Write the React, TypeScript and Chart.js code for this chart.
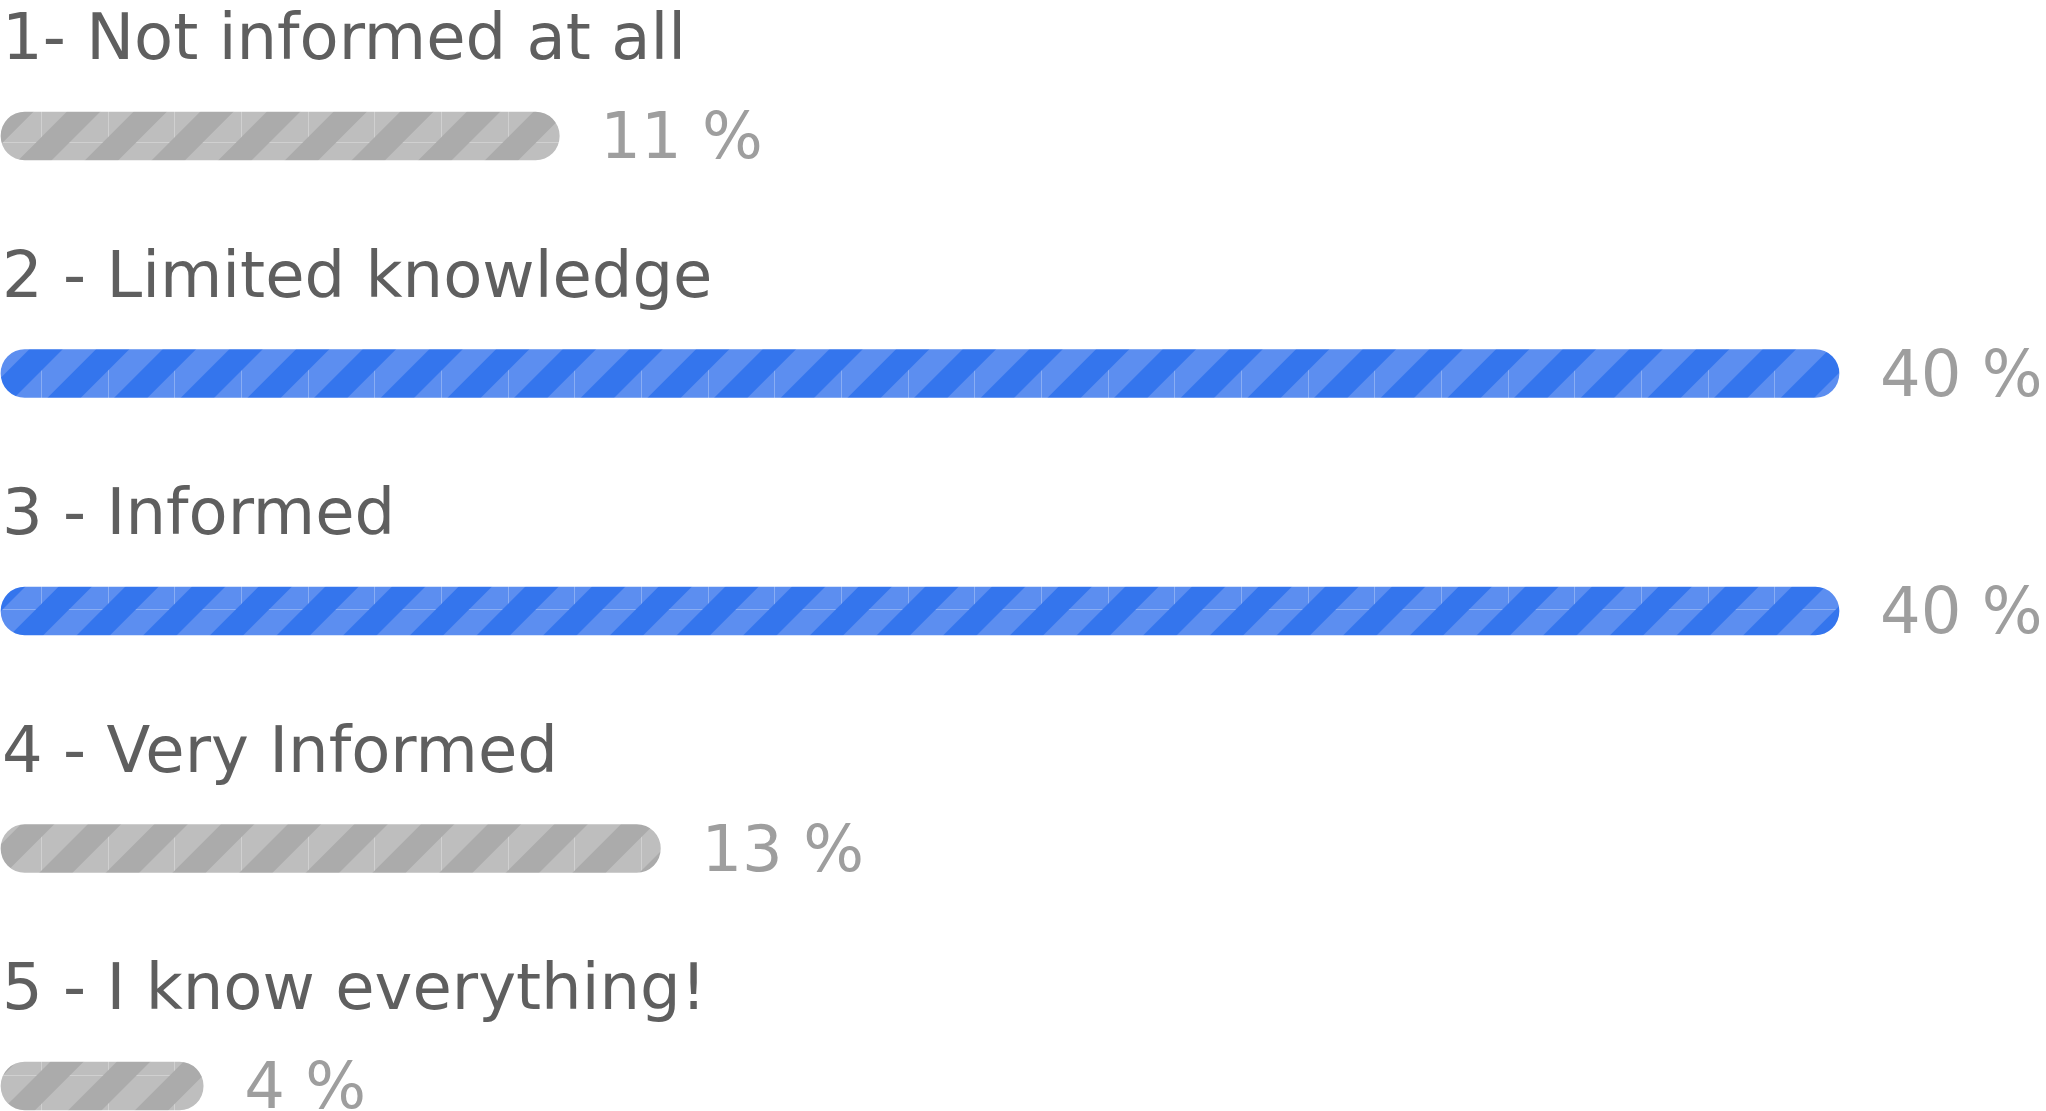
import React, { useEffect, useRef } from "react";
import { Chart, registerables } from "chart.js";

Chart.register(...registerables);

const categories = [
  "1- Not informed at all",
  "2 - Limited knowledge",
  "3 - Informed",
  "4 - Very Informed",
  "5 - I know everything!",
];
const barValues = [12.15, 40, 40, 14.35, 4.4];
const percentLabels = ["11 %", "40 %", "40 %", "13 %", "4 %"];

const BLUE_DARK = "#3475ED";
const BLUE_LIGHT = "#5C8EF0";
const GREY_DARK = "#ABABAB";
const GREY_LIGHT = "#BEBEBE";

function makePattern(ctx: CanvasRenderingContext2D, dark: string, light: string) {
  const S = 200;
  const P = S / 3;
  const tile = document.createElement("canvas");
  tile.width = S;
  tile.height = S;
  const t = tile.getContext("2d")!;
  t.fillStyle = light;
  t.fillRect(0, 0, S, S);
  // faint seams (visible on light stripes)
  t.fillStyle = "rgba(255,255,255,0.28)";
  for (let i = 0; i < 3; i++) {
    const p = Math.round(i * P);
    t.fillRect(p, 0, 1, S);
    t.fillRect(0, p, S, 1);
  }
  t.fillStyle = dark;
  const c = -4.4;
  for (let a = c - 2 * P; a < 2 * S + P; a += P) {
    t.beginPath();
    t.moveTo(a, 0);
    t.lineTo(a + P / 2, 0);
    t.lineTo(a + P / 2 - S, S);
    t.lineTo(a - S, S);
    t.closePath();
    t.fill();
  }
  const pat = ctx.createPattern(tile, "repeat")!;
  if ((pat as any).setTransform) {
    pat.setTransform(new DOMMatrix([1, 0, 0, 1, 41, 142]));
  }
  return pat;
}

const labelPlugin = {
  id: "rowLabels",
  afterDatasetsDraw(chart: any) {
    const ctx = chart.ctx as CanvasRenderingContext2D;
    const meta = chart.getDatasetMeta(0);
    const left = chart.chartArea.left;
    meta.data.forEach((bar: any, i: number) => {
      const { x, y } = bar.getProps(["x", "y"], true);
      ctx.save();
      ctx.font = '64px "DejaVu Sans"';
      ctx.textAlign = "left";
      ctx.textBaseline = "alphabetic";
      ctx.fillStyle = "#5f5f5f";
      ctx.fillText(categories[i], left + 1, y - 77);
      ctx.fillStyle = "#9e9e9e";
      ctx.fillText(percentLabels[i], x + 41, y + 22);
      ctx.restore();
    });
  },
};

export default function App() {
  const ref = useRef<HTMLCanvasElement | null>(null);

  useEffect(() => {
    const canvas = ref.current!;
    const ctx = canvas.getContext("2d")!;
    const bluePat = makePattern(ctx, BLUE_DARK, BLUE_LIGHT);
    const greyPat = makePattern(ctx, GREY_DARK, GREY_LIGHT);
    const maxVal = Math.max(...barValues);

    const chart = new Chart(canvas, {
      type: "bar",
      data: {
        labels: categories,
        datasets: [
          {
            data: barValues,
            backgroundColor: barValues.map((v) => (v === maxVal ? bluePat : greyPat)) as any,
            borderWidth: 0,
            borderRadius: 24,
            borderSkipped: false,
            barThickness: 48,
            clip: false as any,
          },
        ],
      },
      options: {
        indexAxis: "y",
        animation: false,
        responsive: false,
        devicePixelRatio: 1,
        events: [],
        layout: { padding: { left: 1, right: 207, top: 136, bottom: 25 } },
        plugins: {
          legend: { display: false },
          tooltip: { enabled: false },
          title: { display: false },
        },
        scales: {
          x: { display: false, min: 0, max: 40 },
          y: { display: false, offset: false, grid: { display: false } },
        },
      },
      plugins: [labelPlugin],
    });
    return () => chart.destroy();
  }, []);

  return (
    <div style={{ position: "fixed", left: 0, top: 0, width: 2046, height: 1111, background: "#fff" }}>
      <canvas ref={ref} width={2046} height={1111} style={{ display: "block", width: 2046, height: 1111 }} />
    </div>
  );
}
